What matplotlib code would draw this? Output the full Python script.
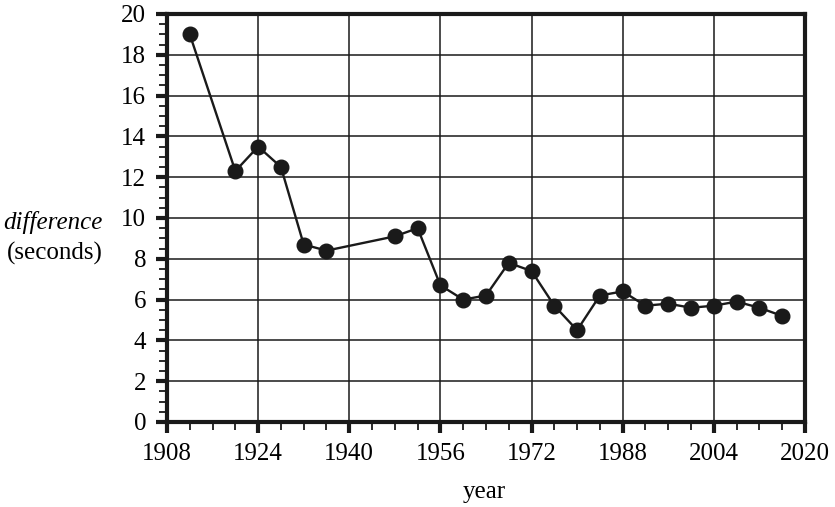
import matplotlib
matplotlib.use('Agg')
import matplotlib.pyplot as plt
import matplotlib.ticker as ticker

years = [1912, 1920, 1924, 1928, 1932, 1936, 1948, 1952, 1956, 1960, 1964, 1968,
         1972, 1976, 1980, 1984, 1988, 1992, 1996, 2000, 2004, 2008, 2012, 2016]
difference = [19.0, 12.3, 13.5, 12.5, 8.7, 8.4, 9.1, 9.5, 6.7, 6.0, 6.2, 7.8,
              7.4, 5.7, 4.5, 6.2, 6.4, 5.7, 5.8, 5.6, 5.7, 5.9, 5.6, 5.2]
x_ticks = [1908, 1924, 1940, 1956, 1972, 1988, 2004, 2020]
y_ticks = [0, 2, 4, 6, 8, 10, 12, 14, 16, 18, 20]

plt.rcParams['font.family'] = ['Liberation Serif', 'DejaVu Serif']

fig = plt.figure(figsize=(8.35, 5.07), dpi=100)
ax = fig.add_axes([0.2, 0.1677, 0.764, 0.8047])

ax.plot(years, difference, '-o', color='#1a1a1a', linewidth=1.7,
        markersize=10.5, zorder=3)

ax.set_xlim(1908, 2020)
ax.set_ylim(0, 20)
ax.set_xticks(x_ticks)
ax.set_yticks(y_ticks)
ax.xaxis.set_minor_locator(ticker.MultipleLocator(4))
ax.yaxis.set_minor_locator(ticker.MultipleLocator(0.5))
ax.grid(True, which='major', color='#1a1a1a', linewidth=1.1)
ax.set_axisbelow(True)

for axis in ['top', 'bottom', 'left', 'right']:
    ax.spines[axis].set_linewidth(3)
    ax.spines[axis].set_color('#1a1a1a')

ax.tick_params(axis='both', which='major', width=3, length=8, labelsize=18,
               color='#1a1a1a', pad=7)
ax.tick_params(axis='both', which='minor', width=1.3, length=6, color='#1a1a1a')

fig.text(53/835, 1 - 222/507, 'difference', style='italic', fontsize=18,
         ha='center', va='center')
fig.text(55/835, 1 - 253/507, '(seconds)', fontsize=18, ha='center', va='center')
fig.text(484/835, 1 - 492/507, 'year', fontsize=18, ha='center', va='center')

plt.savefig('out.png', dpi=100)
